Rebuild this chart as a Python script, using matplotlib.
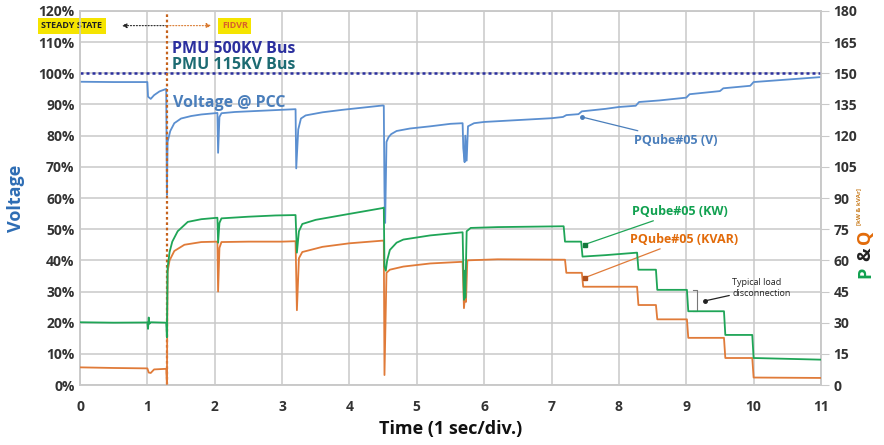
import matplotlib
matplotlib.use("Agg")
import matplotlib.pyplot as plt
import numpy as np

plt.rcParams["font.family"] = ["Open Sans", "DejaVu Sans"]
plt.rcParams["font.weight"] = "bold"
plt.rcParams["axes.labelweight"] = "bold"

# PQube#05 voltage at the PCC, percent of nominal
t_volt = [0, 0.5, 1.0, 1.01, 1.05, 1.1, 1.18, 1.28, 1.29, 1.30, 1.34, 1.4, 1.5, 1.65, 1.8,
          2.0, 2.04, 2.05, 2.07, 2.1, 2.3, 2.6, 2.9, 3.2, 3.21, 3.24, 3.28, 3.35, 3.6, 3.9,
          4.2, 4.5, 4.51, 4.52, 4.53, 4.55, 4.58, 4.62, 4.7, 4.9, 5.2, 5.5, 5.68, 5.69, 5.71,
          5.72, 5.74, 5.76, 5.85, 6.0, 6.5, 7.0, 7.17, 7.22, 7.4, 7.45, 7.8, 8.0, 8.25, 8.3,
          8.6, 9.0, 9.05, 9.5, 9.55, 9.95, 10.0, 10.5, 11.0]
volt = [97.3, 97.2, 97.2, 92.5, 91.8, 93.0, 94.2, 95.0, 61.0, 78.0, 81.5, 84.0, 85.5, 86.3, 86.8,
        87.2, 87.3, 74.5, 86.0, 87.2, 87.6, 87.9, 88.2, 88.5, 69.5, 82.0, 85.5, 86.5, 87.5, 88.3,
        89.0, 89.7, 89.6, 62.0, 52.0, 78.0, 79.5, 80.5, 81.5, 82.3, 83.0, 83.8, 84.0, 76.0, 71.5,
        80.0, 72.0, 83.0, 84.0, 84.4, 85.0, 85.6, 86.0, 86.6, 86.9, 87.8, 88.6, 89.2, 89.6, 90.8,
        91.3, 92.2, 93.3, 94.3, 95.2, 96.0, 97.2, 98.0, 98.8]

# active power (kW)
t_kw = [0, 0.5, 1.0, 1.01, 1.02, 1.03, 1.05, 1.28, 1.29, 1.30, 1.33, 1.37, 1.45, 1.6, 1.8,
        2.04, 2.05, 2.07, 2.1, 2.5, 2.9, 3.2, 3.22, 3.25, 3.3, 3.5, 3.9, 4.2, 4.5, 4.51, 4.52,
        4.54, 4.56, 4.6, 4.7, 4.8, 5.2, 5.68, 5.70, 5.71, 5.72, 5.74, 5.8, 6.2, 6.7, 7.18,
        7.2, 7.44, 7.46, 7.8, 8.27, 8.29, 8.55, 8.57, 9.01, 9.03, 9.56, 9.58, 9.98, 10.0,
        10.5, 11.0]
kw = [30.2, 30.0, 30.1, 27.0, 32.5, 29.5, 30.2, 30.0, 23.0, 56.5, 64.0, 69.0, 74.0, 78.5, 79.8,
      80.5, 68.5, 78.0, 80.2, 81.0, 81.6, 81.8, 63.7, 74.0, 77.5, 79.5, 81.8, 83.5, 85.2, 85.4, 57.0,
      55.0, 60.0, 65.0, 68.5, 70.0, 72.0, 73.5, 41.0, 55.0, 42.0, 74.0, 75.6, 76.0, 76.2, 76.4,
      69.0, 69.0, 61.8, 62.5, 63.7, 55.5, 55.5, 45.8, 45.8, 35.5, 35.5, 24.1, 24.1, 13.0,
      12.6, 12.2]

# reactive power (kVAR)
t_kvar = [0, 0.5, 1.0, 1.02, 1.05, 1.1, 1.28, 1.29, 1.30, 1.33, 1.4, 1.55, 1.8, 2.04, 2.05,
          2.07, 2.1, 2.5, 3.0, 3.2, 3.22, 3.25, 3.3, 3.6, 4.0, 4.5, 4.51, 4.52, 4.55, 4.6, 4.8,
          5.2, 5.68, 5.70, 5.72, 5.73, 5.75, 6.2, 6.7, 7.2, 7.22, 7.45, 7.47, 8.27, 8.29, 8.55,
          8.57, 9.01, 9.03, 9.56, 9.58, 9.98, 10.0, 10.5, 11.0]
kvar = [8.5, 8.2, 8.0, 6.0, 5.8, 7.5, 7.8, 0.5, 54.5, 60.0, 64.5, 67.5, 68.8, 69.0, 45.0,
        66.0, 68.8, 69.0, 69.0, 69.2, 36.0, 61.0, 64.0, 66.5, 68.2, 69.5, 69.5, 4.8, 54.0, 55.5, 57.0,
        58.5, 59.3, 37.0, 45.0, 40.0, 60.0, 60.5, 60.4, 60.3, 54.0, 54.0, 47.3, 47.3, 38.5, 38.5,
        31.6, 31.6, 22.7, 22.7, 13.0, 13.0, 3.6, 3.5, 3.4]

pmu_level = 100
fidvr_time = 1.29

x_ticks = np.arange(0, 12)
volt_ticks = np.arange(0, 121, 10)
pq_ticks = np.arange(0, 181, 15)

c_volt = "#5b8fd0"
c_kw = "#1fa557"
c_kvar = "#e07b39"
c_grid = "#c9c9c9"
c_tick = "#333333"

fig = plt.figure(figsize=(8.84, 4.45), dpi=100)
ax = fig.add_axes([0.0905, 0.1348, 0.8382, 0.8405])
ax2 = ax.twinx()

ax.set_xlim(0, 11)
ax.set_ylim(0, 120)
ax2.set_ylim(0, 180)
ax.set_xticks(x_ticks)
ax.set_yticks(volt_ticks)
ax.set_yticklabels([f"{v}%" for v in volt_ticks])
ax2.set_yticks(pq_ticks)
ax.grid(True, color=c_grid, lw=1.1)
ax.set_axisbelow(True)
for a in (ax, ax2):
    for s in a.spines.values():
        s.set_color(c_grid)
        s.set_linewidth(1.1)
ax.tick_params(axis="x", length=0, pad=11, labelsize=10, labelcolor=c_tick)
ax.tick_params(axis="y", length=0, pad=4, labelsize=10, labelcolor=c_tick)
ax2.tick_params(axis="y", length=6, color=c_grid, pad=3, labelsize=10, labelcolor=c_tick)
for lbl in ax.get_xticklabels() + ax.get_yticklabels() + ax2.get_yticklabels():
    lbl.set_fontweight("bold")

# series
ax.plot(t_volt, volt, color=c_volt, lw=1.3, zorder=3)
ax2.plot(t_kvar, kvar, color=c_kvar, lw=1.3, zorder=3)
ax2.plot(t_kw, kw, color=c_kw, lw=1.3, zorder=4)
ax.axhline(pmu_level, color="#2b2f9e", lw=1.8, ls=(0, (1.2, 1.2)), zorder=4)
ax.axvline(fidvr_time, color="#c5621c", lw=1.6, ls=(0, (1.2, 1.2)), zorder=5)

# state markers above the plot
ax.annotate("", xy=(0.62, 115.3), xytext=(fidvr_time, 115.3),
            arrowprops=dict(arrowstyle="-|>", color="#222222", lw=0.8, ls=":",
                            mutation_scale=7, shrinkA=0, shrinkB=0))
ax.annotate("", xy=(1.95, 115.3), xytext=(fidvr_time, 115.3),
            arrowprops=dict(arrowstyle="-|>", color="#d9782d", lw=0.8, ls=":",
                            mutation_scale=7, shrinkA=0, shrinkB=0))
ax.text(-0.12, 115.3, "STEADY STATE", fontsize=6.5, color="#222222", ha="center", va="center",
        clip_on=False, bbox=dict(boxstyle="square,pad=0.4", fc="#f5e400", ec="none"))
ax.text(2.3, 115.3, "FIDVR", fontsize=6.5, color="#d9602a", ha="center", va="center",
        bbox=dict(boxstyle="square,pad=0.4", fc="#f5e400", ec="none"))

ax.text(1.36, 107.8, "PMU 500KV Bus", fontsize=11.5, color="#2b2f9e", va="center")
ax.text(1.36, 102.6, "PMU 115KV Bus", fontsize=11.5, color="#1c6b72", va="center")
ax.text(1.38, 90.5, "Voltage @ PCC", fontsize=11.5, color="#4a7ebb", va="center")

# callouts
ax.annotate("PQube#05 (V)", xy=(7.45, 86.0), xytext=(8.22, 78.6), fontsize=9,
            color="#4a7ebb", va="center",
            arrowprops=dict(arrowstyle="-", color="#4a7ebb", lw=0.9, shrinkA=0, shrinkB=0))
ax.plot([7.45], [86.0], "o", color="#4a7ebb", ms=2.5, zorder=6)
ax2.annotate("PQube#05 (KW)", xy=(7.49, 67.6), xytext=(8.2, 83.5), fontsize=9,
             color="#11a150", va="center",
             arrowprops=dict(arrowstyle="-", color=c_kw, lw=0.9, shrinkA=0, shrinkB=0))
ax2.plot([7.49], [67.6], "s", color="#127a3c", ms=2.5, zorder=6)
ax2.annotate("PQube#05 (KVAR)", xy=(7.49, 51.6), xytext=(8.17, 70.0), fontsize=9,
             color="#e26b0a", va="center",
             arrowprops=dict(arrowstyle="-", color=c_kvar, lw=0.9, shrinkA=0, shrinkB=0))
ax2.plot([7.49], [51.6], "s", color="#b0501c", ms=2.5, zorder=6)

# bracket over one load step
ax2.plot([9.1, 9.16, 9.16, 9.1], [kw[54], kw[54], kw[56], kw[56]], color="#777777", lw=0.8)
ax2.annotate("Typical load\ndisconnection", xy=(9.28, 40.5), xytext=(9.68, 46.5), fontsize=6.5,
             color="#222222", va="center", linespacing=1.3, fontweight="normal",
             arrowprops=dict(arrowstyle="-", color="#222222", lw=0.9, shrinkA=0, shrinkB=0))
ax2.plot([9.28], [40.5], "o", color="#222222", ms=2.5, zorder=6)

# axis titles
ax.set_xlabel("Time (1 sec/div.)", fontsize=13, fontweight="bold", color="#111111", labelpad=4)
fig.text(0.018, 0.555, "Voltage", rotation=90, fontsize=13, color="#2e6db4",
         ha="center", va="center")
fig.text(0.979, 0.388, "P", rotation=90, fontsize=13, color="#11a150", ha="center", va="center")
fig.text(0.979, 0.428, "&", rotation=90, fontsize=13, color="#222222", ha="center", va="center")
fig.text(0.979, 0.468, "Q", rotation=90, fontsize=13, color="#e26b0a", ha="center", va="center")
fig.text(0.971, 0.535, "[kW & kVAr]", rotation=90, fontsize=4.5, color="#c87a1a",
         ha="center", va="center")

fig.savefig("out.png", dpi=100)
